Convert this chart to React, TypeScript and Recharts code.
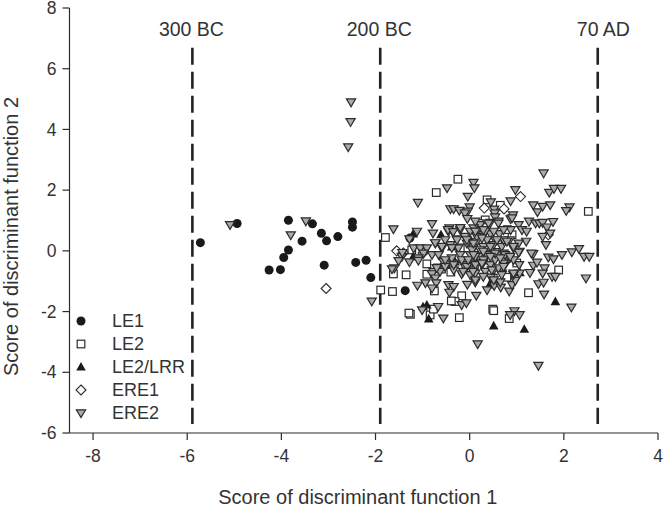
import { ScatterChart, Scatter, XAxis, YAxis, ReferenceLine, ReferenceDot, Legend } from 'recharts';

const INK = '#2b2b2b';
const TEXT = '#333333';
const FONT = "'Liberation Sans', Arial, sans-serif";

const xTicks = [-8, -6, -4, -2, 0, 2, 4];
const yTicks = [-6, -4, -2, 0, 2, 4, 6, 8];

const periods = [
  { x: -5.89, labelX: -5.91, label: '300 BC' },
  { x: -1.9, labelX: -1.92, label: '200 BC' },
  { x: 2.72, labelX: 2.84, label: '70 AD' },
];

const le1 = [
  [-5.72, 0.27], [-4.94, 0.9], [-3.85, 1.01], [-3.34, 0.89], [-3.15, 0.58], [-3.04, 0.33], [-2.8, 0.47],
  [-2.49, 0.95], [-2.49, 0.78], [-3.56, 0.32], [-3.85, 0.03], [-3.95, -0.22], [-4.02, -0.62], [-4.26, -0.63],
  [-3.09, -0.47], [-2.42, -0.38], [-2.2, -0.31], [-2.1, -0.88], [-1.37, -1.31], [-1.27, 0.42],
];

const le2 = [
  [-0.25, 2.36], [-0.71, 1.92], [-1.79, 0.44], [-1.23, 0.03], [2.52, 1.3], [0.37, 1.68], [0.9, 0.53], [0.33, 1.02],
  [-1.89, -1.29], [-1.64, -1.34], [-1.35, -0.79], [-1.62, -0.76], [-0.91, -0.43], [-0.91, -0.77], [-0.75, -1.32],
  [-1.26, -2.09], [-1.29, -2.05], [-0.84, -2.11], [-0.77, -1.92], [-0.22, -2.2], [-0.17, -1.48], [-0.31, -1.67],
  [-0.39, -1.65], [1.25, -1.38], [0.49, -1.92], [0.51, -1.97], [0.84, -2.23], [1.89, -0.63], [0.79, -0.87],
  [0.1, -0.5], [0.5, -0.9], [-0.4, -0.7], [0.2, 0.9], [0.6, 0.2], [-0.2, 0.1], [0.3, -0.3], [1.0, -0.4],
  [-0.6, -0.6], [0.8, 0.7], [0.65, 1.5],
];

const le2Lrr = [
  [-0.61, 0.53], [-0.91, -1.78], [-0.99, -1.84], [-0.87, -2.24], [1.82, -1.67], [0.51, -2.47], [1.16, -2.58],
  [1.07, -0.72], [0.42, -1.12], [-0.38, 0.13], [-1.2, -0.19], [-1.2, 0.56], [-0.31, -0.36], [0.01, 0.36],
];

const ere1 = [
  [-3.05, -1.24], [-1.55, 0.0], [0.31, 1.41], [0.73, 1.38], [1.08, 1.79], [1.67, 0.53], [-0.99, -0.07], [-1.41, -0.07],
];

const ere2 = [
  [-2.52, 4.9], [-2.53, 4.25], [-2.58, 3.42], [-5.09, 0.86], [-3.48, 0.98], [-3.8, 0.52], [-2.08, -1.66],
  [1.57, 2.56], [1.69, 1.92], [1.79, 2.05], [1.94, 2.05], [0.97, 2.01], [0.87, 1.64], [0.45, 1.61], [1.35, 1.51],
  [1.44, 1.28], [1.55, 1.46], [1.71, 1.51], [2.12, 1.44], [2.05, 1.32], [0.92, 1.18], [0.87, 1.05], [0.52, 1.37],
  [0.53, 1.24], [0.54, 1.11], [0.08, 2.25], [0.1, 2.07], [1.26, 0.97], [1.4, 0.91], [1.48, 0.91], [1.55, 0.93],
  [1.77, 0.96], [1.64, 0.78], [1.04, 0.86], [1.11, 0.69], [1.21, 0.64], [1.55, 0.47], [1.71, 0.58], [1.62, 0.2],
  [1.2, 0.31], [1.04, 0.25], [1.35, -0.1], [1.31, -0.08], [1.96, -0.13], [2.17, -0.04], [2.32, 0.07], [2.43, -0.19],
  [2.54, -0.19], [1.67, -0.21], [1.78, -0.27], [1.06, -0.02], [0.93, 0.09], [0.85, 0.36], [0.87, 0.69], [0.63, 0.56],
  [0.44, 0.56], [0.22, 0.53], [0.61, 0.97], [0.44, 0.93], [0.22, 0.86], [0.08, 0.75], [0.33, 0.64], [0.54, 0.36],
  [0.37, 0.36], [0.15, 0.31], [0.29, 0.14], [0.51, 0.2], [0.68, 0.14], [0.72, 0.36], [0.08, 0.09], [0.22, 0.03],
  [0.44, -0.08], [0.58, -0.13], [0.72, -0.08], [0.07, -0.13], [0.79, -0.19],
  [0.12, -1.03], [0.14, -1.47], [0.37, -1.29], [0.52, -1.15], [0.66, -1.2], [0.84, -1.33], [0.9, -1.12], [0.45, -0.87],
  [0.65, -1.03], [0.97, -0.98], [0.74, -0.49], [1.05, -0.46], [1.06, -0.74], [1.28, -0.72], [1.35, -0.48], [1.43, -0.38],
  [1.59, -0.57], [1.55, -0.74], [1.46, -1.09], [1.57, -1.04], [1.58, -1.43], [1.75, -0.85], [1.82, -0.85], [2.47, -0.9],
  [2.16, -1.86], [0.95, -1.98], [0.86, -2.11], [1.06, -2.11], [0.17, -3.07], [1.46, -3.78], [1.04, -0.05], [0.85, -0.24],
  [0.93, -0.3], [0.75, -0.13], [0.93, -0.79], [0.37, -0.13], [0.19, -0.19], [0.44, -0.46], [0.26, -0.46], [0.08, -0.41],
  [0.51, -0.63], [0.33, -0.68], [0.12, -0.74], [0.05, -0.63], [0.68, -0.74], [0.61, -0.57], [0.54, -0.3], [0.29, -0.3],
  [0.72, -0.41],
  [-1.62, 0.72], [-1.1, 1.59], [-0.48, 2.07], [-0.04, 1.79], [-0.41, 1.38], [-0.34, 1.38], [-0.22, 1.33], [0, 1.44],
  [-0.04, 1.3], [-0.1, 1.24], [-0.05, 1.06], [-0.8, 0.89], [-1.12, 0.64], [-0.78, 0.58], [-1.28, 0.39], [-0.43, 0.75],
  [-0.45, 0.64], [-0.36, 0.64], [-0.2, 0.69], [0.01, 0.64], [-0.27, 0.39], [-0.1, 0.47], [0.15, 0.64], [-1.19, 0.09],
  [-1.05, 0.09], [-0.91, 0.09], [-0.73, 0.25], [-0.59, 0.09], [-0.41, 0.2], [-0.24, 0.09], [-0.06, 0.25], [-0.98, -0.08],
  [-0.8, -0.13], [-0.66, -0.13], [-1.44, -0.19], [-1.09, -0.24], [0.01, -0.13], [-0.2, -0.13],
  [-1.43, -0.06], [-1.51, -0.33], [-1.28, -0.37], [-1.09, -0.32], [-1.6, -0.57], [-1.65, -0.6], [-0.77, -0.68],
  [-0.66, -0.54], [-0.63, -0.68], [-0.8, -0.76], [-0.73, -0.9], [-0.71, -1.06], [-1.11, -1.14], [-0.94, -1.06],
  [-0.8, -1.23], [-0.45, -1.12], [-0.34, -1.18], [-0.43, -1.37], [-0.05, -1.11], [-0.67, -1.84], [-1.01, -1.95],
  [-0.56, -2.22], [-0.17, -1.78], [-0.07, -1.72], [-0.56, -0.35], [-0.45, -0.41], [-0.31, -0.41], [-0.13, -0.46],
  [0.01, -0.79], [-0.17, -0.76], [-0.34, -0.63], [-0.52, -0.52], [-0.06, -0.52], [0.12, -0.46], [-0.38, -0.24],
  [-0.46, 0.69], [-0.35, 0.63], [-0.2, 0.76], [-0.52, 0.36], [-0.27, 0.36], [-0.06, 0.36], [0.15, 0.47], [-0.73, 0.26],
  [-0.59, 0.14], [-0.38, 0.1], [0.05, 0.03], [0.12, -0.19], [-0.52, -0.3], [-0.34, -0.46], [-0.17, -0.3], [-0.03, -0.3],
  [-0.14, -0.68], [0.07, -0.68], [-0.7, -0.56], [0.12, 0.97], [0.4, 0.91], [0.61, 0.91], [0.9, 1.08], [0.29, 0.69],
  [0.51, 0.64], [0.72, 0.69], [0.12, 0.64], [0.26, 0.42], [0.58, 0.36], [0.79, 0.31], [0.08, 0.25], [0.44, 0.14],
  [0.93, 0.14], [0.29, -0.02], [0.54, -0.08], [0.08, -0.13], [0.44, -0.19], [0.65, -0.24], [0.86, -0.19], [0.26, -0.41],
  [0.72, -0.52], [0.47, -0.63], [0.29, -0.85], [0.93, -0.74], [0.68, -0.79], [0.51, -0.96], [0.12, -0.96],
];

const points = (rows: number[][]) => rows.map(([x, y]) => ({ x, y }));

type Mark = { cx?: number; cy?: number };

const Dot = ({ cx = 0, cy = 0 }: Mark) => <circle cx={cx} cy={cy} r={4.5} fill="#1a1a1a" />;
const Square = ({ cx = 0, cy = 0 }: Mark) => (
  <rect x={cx - 3.8} y={cy - 3.8} width={7.6} height={7.6} fill="#fff" stroke={INK} strokeWidth={1.2} />
);
const UpTriangle = ({ cx = 0, cy = 0 }: Mark) => (
  <path d={`M${cx},${cy - 5} L${cx + 4.8},${cy + 3.6} L${cx - 4.8},${cy + 3.6} Z`} fill="#1a1a1a" />
);
const Diamond = ({ cx = 0, cy = 0 }: Mark) => (
  <path d={`M${cx},${cy - 5} L${cx + 5},${cy} L${cx},${cy + 5} L${cx - 5},${cy} Z`} fill="#fff" stroke={INK} strokeWidth={1.1} />
);
const DownTriangle = ({ cx = 0, cy = 0 }: Mark) => (
  <path d={`M${cx - 4.6},${cy - 3.2} L${cx + 4.6},${cy - 3.2} L${cx},${cy + 4.6} Z`} fill="#ababab" stroke={INK} strokeWidth={1.2} />
);

const legendRows = [
  { name: 'LE1', Icon: Dot },
  { name: 'LE2', Icon: Square },
  { name: 'LE2/LRR', Icon: UpTriangle },
  { name: 'ERE1', Icon: Diamond },
  { name: 'ERE2', Icon: DownTriangle },
];

function SymbolLegend() {
  return (
    <svg width={140} height={115} style={{ display: 'block' }}>
      {legendRows.map(({ name, Icon }, i) => (
        <g key={name}>
          <Icon cx={11} cy={12 + i * 23} />
          <text x={42} y={18 + i * 23} fontFamily={FONT} fontSize={18} fill={TEXT}>
            {name}
          </text>
        </g>
      ))}
    </svg>
  );
}

const tickStyle = { fill: TEXT, fontSize: 17.5, fontFamily: FONT };
const titleStyle = { fill: TEXT, fontSize: 20, fontFamily: FONT };

export default function App() {
  return (
    <div style={{ position: 'absolute', left: 0, top: 0, width: 665, height: 506, background: '#fff' }}>
      <ScatterChart width={665} height={506} margin={{ top: 8, right: 7, bottom: 0, left: 0 }}>
        <XAxis
          type="number"
          dataKey="x"
          domain={[-8.5, 4]}
          ticks={xTicks}
          height={73}
          interval={0}
          tick={tickStyle}
          tickSize={7}
          tickMargin={10}
          stroke={INK}
          strokeWidth={1.2}
          label={{ value: 'Score of discriminant function 1', position: 'insideBottom', offset: 0, dx: -6, dy: -2, style: titleStyle }}
        />
        <YAxis
          type="number"
          dataKey="y"
          domain={[-6, 8]}
          ticks={yTicks}
          width={69.5}
          interval={0}
          tick={tickStyle}
          tickSize={7}
          tickMargin={6}
          stroke={INK}
          strokeWidth={1.2}
          label={{ value: 'Score of discriminant function 2', angle: -90, position: 'insideLeft', offset: 0, dx: 11, dy: 16, style: { ...titleStyle, textAnchor: 'middle' } }}
        />
        <Legend
          layout="horizontal"
          align="center"
          verticalAlign="middle"
          content={<SymbolLegend />}
          wrapperStyle={{ position: 'absolute', left: 70, top: 309, width: 140, height: 115 }}
        />
        <Scatter name="LE1" data={points(le1)} shape={Dot} isAnimationActive={false} />
        <Scatter name="LE2" data={points(le2)} shape={Square} isAnimationActive={false} />
        <Scatter name="LE2/LRR" data={points(le2Lrr)} shape={UpTriangle} isAnimationActive={false} />
        <Scatter name="ERE1" data={points(ere1)} shape={Diamond} isAnimationActive={false} />
        <Scatter name="ERE2" data={points(ere2)} shape={DownTriangle} isAnimationActive={false} />
        {periods.map((p) => (
          <ReferenceLine
            key={p.label}
            segment={[{ x: p.x, y: 6.69 }, { x: p.x, y: -5.7 }]}
            stroke="#222"
            strokeWidth={2.6}
            strokeDasharray="17 7"
          />
        ))}
        {periods.map((p) => (
          <ReferenceDot
            key={p.label}
            x={p.labelX}
            y={7.29}
            r={0}
            stroke="none"
            label={{ value: p.label, position: 'center', style: { fill: TEXT, fontSize: 19.5, fontFamily: FONT } }}
          />
        ))}
      </ScatterChart>
    </div>
  );
}
